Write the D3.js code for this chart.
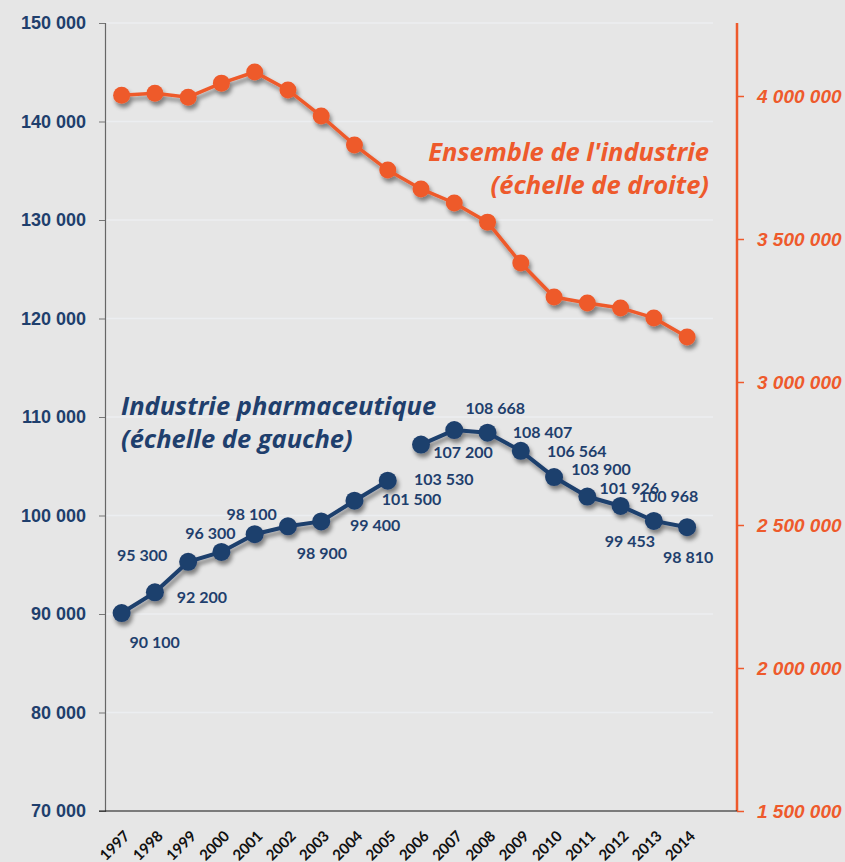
<!DOCTYPE html>
<html>
<head>
<meta charset="utf-8">
<script src="https://cdn.jsdelivr.net/npm/d3@7/dist/d3.min.js"></script>
<style>
body { margin: 0; background: #e6e6e6; }
svg { display: block; font-family: Lato, "Open Sans", sans-serif; }
</style>
</head>
<body>
<div id="chart"></div>
<script>

// Data

var years = ["1997", "1998", "1999", "2000", "2001", "2002", "2003", "2004", "2005",
	"2006", "2007", "2008", "2009", "2010", "2011", "2012", "2013", "2014"];

// Industrie pharmaceutique (left scale)
var pharma = [90100, 92200, 95300, 96300, 98100, 98900, 99400, 101500, 103530,
	107200, 108668, 108407, 106564, 103900, 101926, 100968, 99453, 98810];

// the pharma line breaks here (new series from 2006)
var pharmaBreakYear = "2006";

// Ensemble de l'industrie (right scale)
var industrie = [4003000, 4010000, 3996000, 4045000, 4084000, 4021000, 3930000, 3829000, 3741000,
	3675000, 3626000, 3559000, 3416000, 3297000, 3276000, 3259000, 3224000, 3157000];

var leftTicks = [70000, 80000, 90000, 100000, 110000, 120000, 130000, 140000, 150000];
var rightTicks = [1500000, 2000000, 2500000, 3000000, 3500000, 4000000];

// label placement around each pharma dot
var labelDx = [33, 47, -46, -11, -3, 34, 54, 57, 56, 42, 41, 55, 56, 47, 42, 48, -24, 1];
var labelDy = [29, 5, -7, -19, -20, 27, 4, -1, -1, 8, -22, 0, 0, -8, -8, -10, 20, 30];

var width = 845,
height = 862,
plotLeft = 105,
plotRight = 737,
plotTop = 23,
plotBottom = 811,
navy = "#1f3f6d",
orange = "#ee5a2c";

var fr = d3.formatLocale({decimal: ",", thousands: " ", grouping: [3], currency: ["", " €"]});
var fmt = fr.format(",d");

var step = (plotRight - plotLeft) / (years.length + 1);

var x = d3.scaleBand()
.domain(years)
.range([plotLeft, plotLeft + step * years.length]);

var xc = function(d) { return x(d) + x.bandwidth() / 2; };

var yLeft = d3.scaleLinear()
.domain([70000, 150000])
.range([plotBottom, plotTop]);

var yRight = d3.scaleLinear()
.domain([1500000, 4000000])
.range([plotBottom, 96]);

var svg = d3.select("#chart").append("svg")
.attr("width", width)
.attr("height", height);

var defs = svg.append("defs");
defs.append("filter")
.attr("id", "shadow")
.attr("x", "-20%").attr("y", "-20%")
.attr("width", "140%").attr("height", "140%")
.append("feDropShadow")
.attr("dx", 2).attr("dy", 4)
.attr("stdDeviation", 2.2)
.attr("flood-color", "#000")
.attr("flood-opacity", 0.45);

svg.append("rect")
.attr("width", width)
.attr("height", height)
.attr("fill", "#e6e6e6");

// Gridlines

svg.append("g")
.selectAll("line")
.data(leftTicks.slice(1))
.enter().append("line")
.attr("x1", plotLeft)
.attr("x2", 713)
.attr("y1", function(d) { return yLeft(d); })
.attr("y2", function(d) { return yLeft(d); })
.attr("stroke", "#eceef1")
.attr("stroke-width", 1.5);

// Left axis

var axisL = svg.append("g")
.attr("transform", "translate(" + plotLeft + ",0)")
.call(d3.axisLeft(yLeft).tickValues(leftTicks).tickFormat(fmt).tickSize(6).tickPadding(13));

axisL.select(".domain").attr("stroke", "#666").attr("stroke-width", 1.2);
axisL.selectAll(".tick line").attr("stroke", "#777");
axisL.selectAll(".tick text")
.attr("fill", navy)
.attr("font-size", 18)
.attr("font-weight", 700);

// Right axis

var axisR = svg.append("g")
.attr("transform", "translate(" + plotRight + ",0)")
.call(d3.axisRight(yRight).tickValues(rightTicks).tickFormat(fmt).tickSize(7).tickSizeOuter(0).tickPadding(13));

axisR.select(".domain").remove();
axisR.append("line")
.attr("y1", plotTop)
.attr("y2", plotBottom)
.attr("stroke", orange)
.attr("stroke-width", 2.5);
axisR.selectAll(".tick line").attr("stroke", orange).attr("stroke-width", 1.5);
axisR.selectAll(".tick text")
.attr("fill", orange)
.attr("font-size", 19)
.attr("font-weight", 700)
.attr("font-style", "italic");

// X axis

var axisX = svg.append("g")
.attr("transform", "translate(0," + plotBottom + ")");

axisX.append("line")
.attr("x1", plotLeft - 6)
.attr("x2", plotRight)
.attr("stroke", "#111")
.attr("stroke-width", 1.2);

axisX.selectAll("text")
.data(years)
.enter().append("text")
.attr("transform", function(d) { return "translate(" + (xc(d) + 9) + ",26) rotate(-45)"; })
.attr("text-anchor", "end")
.attr("font-size", 15)
.attr("font-weight", 700)
.attr("fill", "#111")
.text(function(d) { return d; });

// Ensemble de l'industrie

var lineR = d3.line()
.x(function(d, i) { return xc(years[i]); })
.y(function(d) { return yRight(d); });

var gR = svg.append("g").attr("filter", "url(#shadow)");

gR.append("path")
.datum(industrie)
.attr("d", lineR)
.attr("fill", "none")
.attr("stroke", orange)
.attr("stroke-width", 3.5);

gR.selectAll("circle")
.data(industrie)
.enter().append("circle")
.attr("cx", function(d, i) { return xc(years[i]); })
.attr("cy", function(d) { return yRight(d); })
.attr("r", 8.5)
.attr("fill", orange);

// Industrie pharmaceutique

var pharmaPts = pharma.map(function(v, i) {
	return {year: years[i], value: v, seg: years[i] < pharmaBreakYear ? 0 : 1, i: i};
});

var lineL = d3.line()
.x(function(d) { return xc(d.year); })
.y(function(d) { return yLeft(d.value); });

var gL = svg.append("g").attr("filter", "url(#shadow)");

gL.selectAll("path")
.data(d3.groups(pharmaPts, function(d) { return d.seg; }))
.enter().append("path")
.attr("d", function(d) { return lineL(d[1]); })
.attr("fill", "none")
.attr("stroke", navy)
.attr("stroke-width", 4);

gL.selectAll("circle")
.data(pharmaPts)
.enter().append("circle")
.attr("cx", function(d) { return xc(d.year); })
.attr("cy", function(d) { return yLeft(d.value); })
.attr("r", 9)
.attr("fill", navy);

svg.append("g")
.selectAll("text")
.data(pharmaPts)
.enter().append("text")
.attr("x", function(d) { return xc(d.year) + labelDx[d.i]; })
.attr("y", function(d) { return yLeft(d.value) + labelDy[d.i]; })
.attr("dy", "0.36em")
.attr("text-anchor", "middle")
.attr("font-size", 16)
.attr("font-weight", 700)
.attr("fill", navy)
.text(function(d) { return fmt(d.value); });

// Series titles

var tR = svg.append("text")
.attr("text-anchor", "end")
.attr("font-family", "'Open Sans', sans-serif")
.attr("font-size", 25.5)
.attr("font-weight", 700)
.attr("font-style", "italic")
.attr("fill", orange);
tR.append("tspan").attr("x", 709).attr("y", 161).text("Ensemble de l'industrie");
tR.append("tspan").attr("x", 709).attr("y", 194).text("(échelle de droite)");

var tL = svg.append("text")
.attr("font-family", "'Open Sans', sans-serif")
.attr("font-size", 25.5)
.attr("font-weight", 700)
.attr("font-style", "italic")
.attr("fill", navy);
tL.append("tspan").attr("x", 121).attr("y", 415).text("Industrie pharmaceutique");
tL.append("tspan").attr("x", 121).attr("y", 448).text("(échelle de gauche)");

</script>
</body>
</html>
